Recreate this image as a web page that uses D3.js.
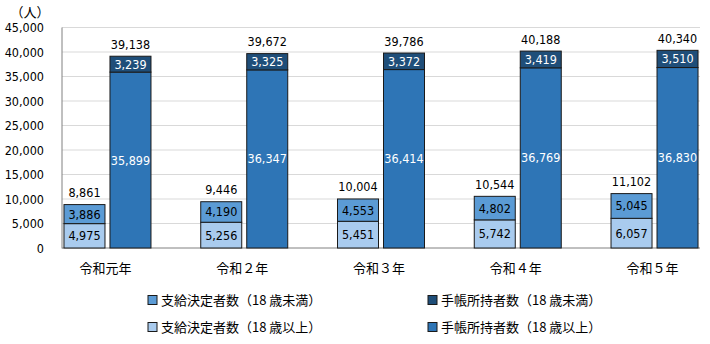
<!DOCTYPE html>
<html><head><meta charset="utf-8">
<script src="https://cdn.jsdelivr.net/npm/d3@7"></script>
<style>
body{margin:0;background:#fff;}
svg{display:block;}
.num{font-family:"DejaVu Sans Condensed","DejaVu Sans",sans-serif;font-size:12.5px;}
.jp{font-family:"Noto Sans CJK JP",sans-serif;font-size:13px;}
</style></head>
<body>
<script>
const categories = ["令和元年","令和２年","令和３年","令和４年","令和５年"];
const shikyuOver18 = [4975,5256,5451,5742,6057];
const shikyuUnder18 = [3886,4190,4553,4802,5045];
const techoOver18 = [35899,36347,36414,36769,36830];
const techoUnder18 = [3239,3325,3372,3419,3510];
const yTicks = [0,5000,10000,15000,20000,25000,30000,35000,40000,45000];
const legendLabels = ["支給決定者数（18 歳未満）","手帳所持者数（18 歳未満）","支給決定者数（18 歳以上）","手帳所持者数（18 歳以上）"];

const W=710,H=344;
const svg=d3.select("body").append("svg").attr("width",W).attr("height",H);
const fmt=d3.format(",");
const y=d3.scaleLinear().domain([0,45000]).range([248,27.5]);
const x=d3.scaleBand().domain(categories).range([39.1,722.9]);
const plotL=62, plotR=700;

const colLight="#a9cbee", colMid="#5b9bd5", colDark="#1f4e79", colBig="#2e75b6";

// grid
svg.append("g").selectAll("line").data(yTicks.filter(d=>d>0)).join("line")
 .attr("x1",plotL).attr("x2",plotR).attr("y1",d=>y(d)).attr("y2",d=>y(d))
 .attr("stroke","#d9d9d9").attr("stroke-width",1);

// y tick labels
svg.append("g").selectAll("text").data(yTicks).join("text").attr("class","num")
 .attr("x",44).attr("y",d=>y(d)).attr("dy","0.36em").attr("text-anchor","end").attr("fill","#000")
 .text(d=>fmt(d));
svg.append("text").attr("class","jp").attr("x",30).attr("y",12).attr("dy","0.36em").attr("text-anchor","middle").text("（人）");

// axes lines
svg.append("line").attr("x1",plotL).attr("x2",plotL).attr("y1",y(45000)).attr("y2",y(0)+0.5).attr("stroke","#808080");
svg.append("line").attr("x1",plotL).attr("x2",plotR).attr("y1",y(0)).attr("y2",y(0)).attr("stroke","#808080");

const bw=41, gap=2.5;
categories.forEach((c,i)=>{
  const cx=x(c)+x.bandwidth()/2;
  const lx=cx-gap-bw, rx=cx+gap;
  const segs=[
    {x:lx,y0:0,y1:shikyuOver18[i],fill:colLight,tc:"#000"},
    {x:lx,y0:shikyuOver18[i],y1:shikyuOver18[i]+shikyuUnder18[i],fill:colMid,tc:"#000"},
    {x:rx,y0:0,y1:techoOver18[i],fill:colBig,tc:"#fff"},
    {x:rx,y0:techoOver18[i],y1:techoOver18[i]+techoUnder18[i],fill:colDark,tc:"#fff"}
  ];
  segs.forEach(s=>{
    svg.append("rect").attr("x",s.x).attr("y",y(s.y1)).attr("width",bw).attr("height",y(s.y0)-y(s.y1))
      .attr("fill",s.fill).attr("stroke","#1a1a1a").attr("stroke-width",1);
    svg.append("text").attr("class","num").attr("x",s.x+bw/2).attr("y",(y(s.y0)+y(s.y1))/2).attr("dy","0.36em")
      .attr("text-anchor","middle").attr("fill",s.tc).text(fmt(s.y1-s.y0));
  });
  const t1=shikyuOver18[i]+shikyuUnder18[i], t2=techoOver18[i]+techoUnder18[i];
  svg.append("text").attr("class","num").attr("x",lx+bw/2).attr("y",y(t1)-12).attr("dy","0.36em").attr("text-anchor","middle").text(fmt(t1));
  svg.append("text").attr("class","num").attr("x",rx+bw/2).attr("y",y(t2)-12).attr("dy","0.36em").attr("text-anchor","middle").text(fmt(t2));
  svg.append("text").attr("class","jp").attr("x",cx-2).attr("y",268).attr("dy","0.36em").attr("text-anchor","middle").text(c);
});

// legend
const legCols=[colMid,colDark,colLight,colBig];
const legPos=[[148,300],[428,300],[148,327],[428,327]];
legendLabels.forEach((l,i)=>{
  const [lx,ly]=legPos[i];
  svg.append("rect").attr("x",lx).attr("y",ly-4.5).attr("width",9).attr("height",9).attr("fill",legCols[i]).attr("stroke","#1a1a1a").attr("stroke-width",1);
  svg.append("text").attr("class","jp").attr("x",lx+13).attr("y",ly).attr("dy","0.36em").text(l);
});
</script>
</body></html>
